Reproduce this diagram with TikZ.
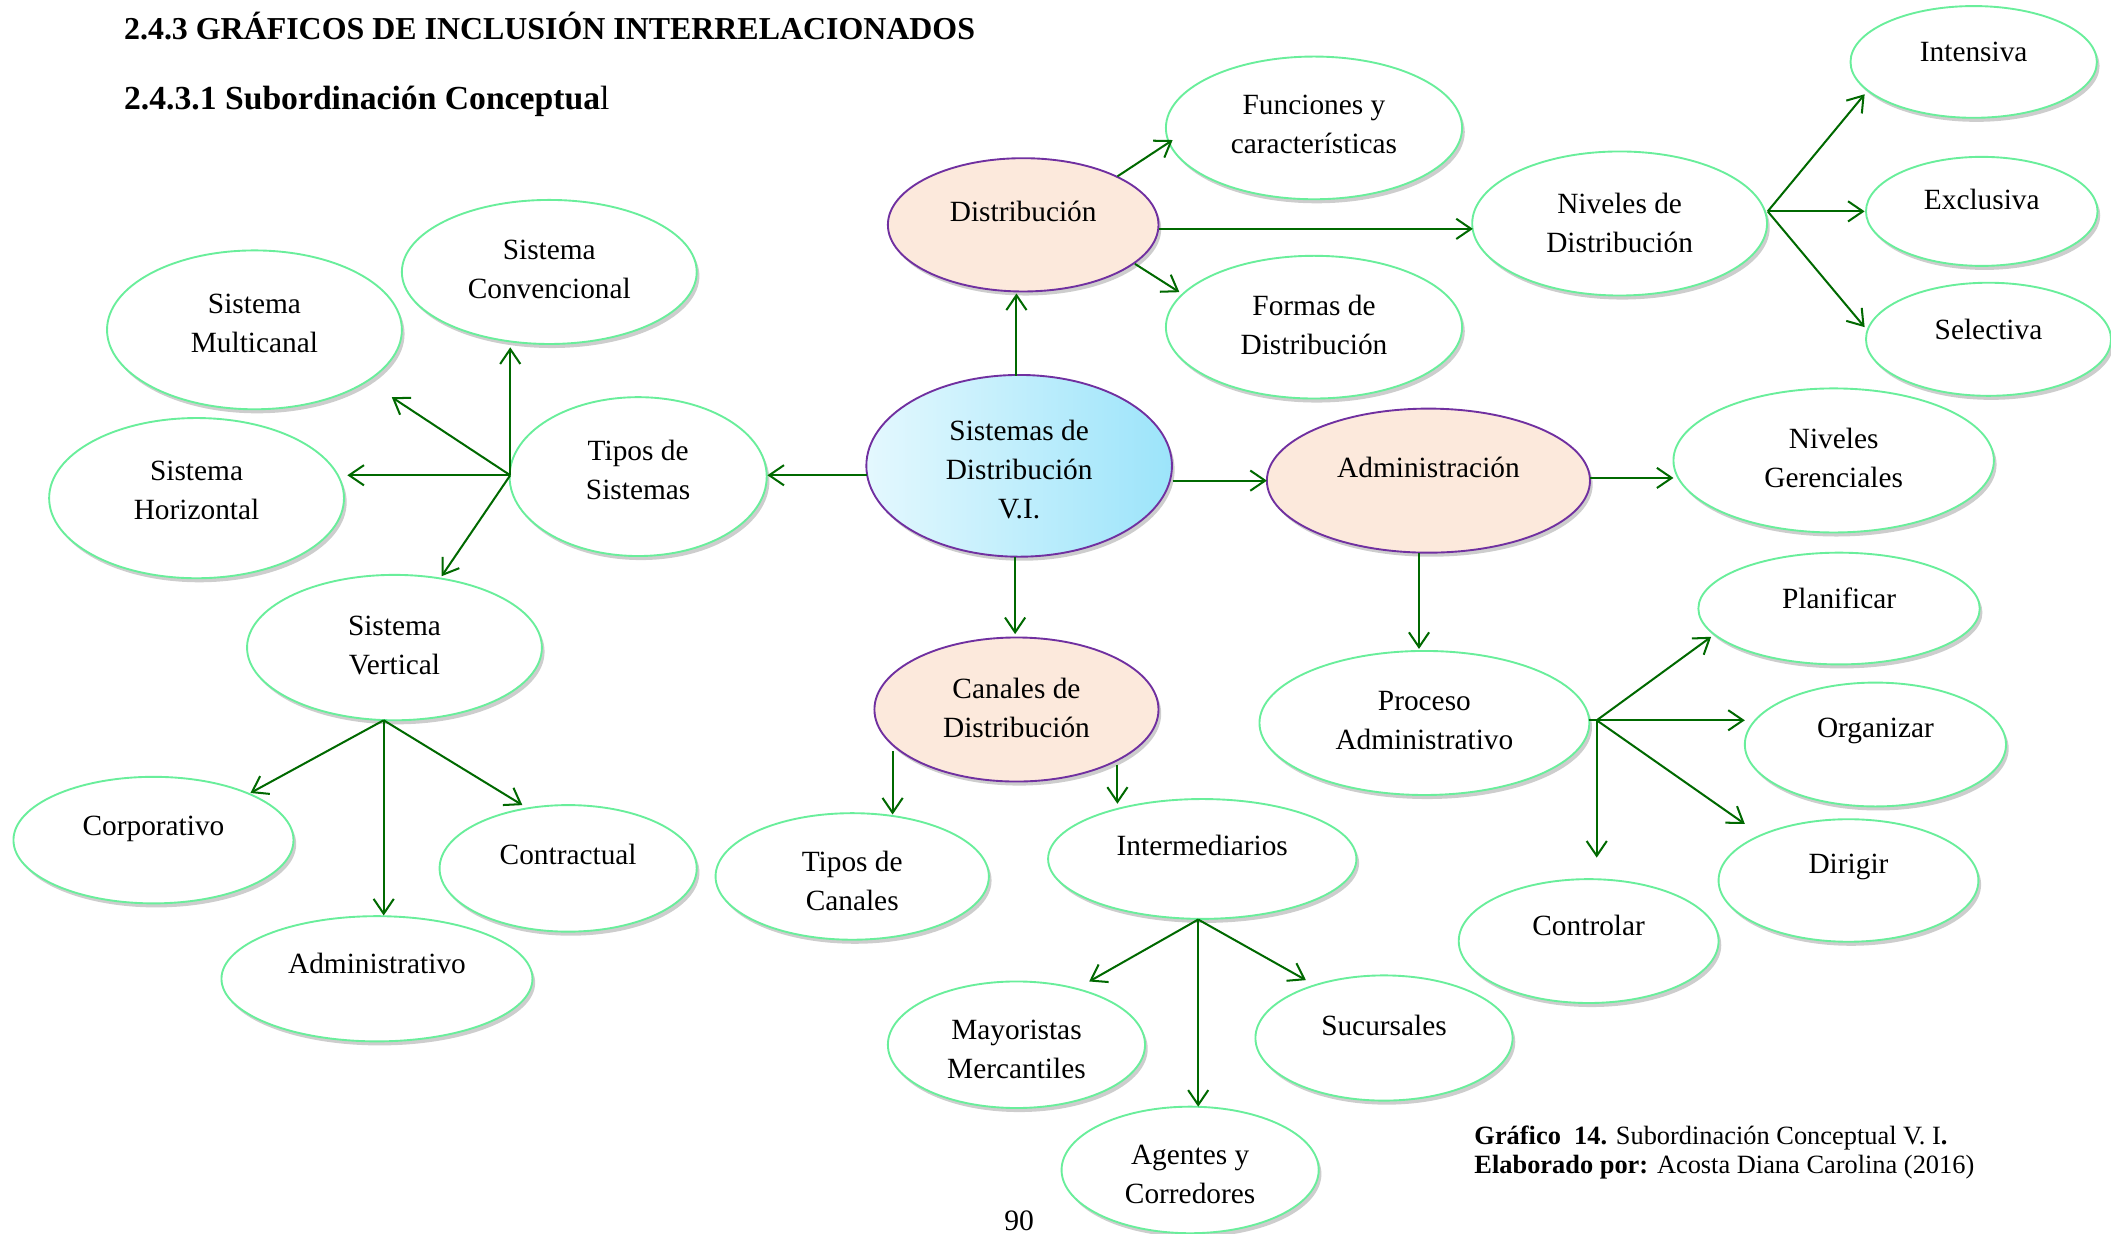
\documentclass[tikz,border=0pt]{standalone}
\usepackage{fontspec}
\setmainfont{Liberation Serif}
\usetikzlibrary{shapes.geometric,shadows,arrows.meta,calc}
\definecolor{agreen}{RGB}{0,105,0}
\definecolor{lgreen}{RGB}{105,238,155}
\definecolor{peach}{RGB}{252,233,220}
\definecolor{purp}{RGB}{112,48,160}
\definecolor{cyanL}{RGB}{228,248,254}
\definecolor{cyanR}{RGB}{156,228,250}
\tikzset{
  base/.style={ellipse, line width=1.4pt, inner sep=0pt,
    drop shadow={shadow xshift=2pt,shadow yshift=-3pt,opacity=.28,fill=black!70}},
  gov/.style={base, draw=lgreen, fill=white},
  pov/.style={base, draw=purp, fill=peach},
  cov/.style={base, draw=purp, left color=cyanL, right color=cyanR},
  txt/.style={align=center, inner sep=0pt,
    font=\fontsize{21.8}{29}\selectfont,
    execute at begin node=\strut, execute at end node=\strut},
  arr/.style={draw=agreen, line width=1.5pt, -{Straight Barb[length=11pt,width=15pt]}},
  lin/.style={draw=agreen, line width=1.5pt},
}
\newcommand\Ov[8]{%
  \node[#1,minimum width=#5pt,minimum height=#6pt] (#2) at (#3,#4) {};
  \node[txt] (#2t) at ($(#2)+(0,#7)$) {#8};
}
\begin{document}
\begin{tikzpicture}[x=1pt,y=-1pt]
\useasboundingbox (0,0) rectangle (1568,916);
% headings
\node[anchor=base west, inner sep=0pt, font=\fontsize{23.7}{27}\selectfont\bfseries] (h1) at (92,29) {2.4.3 GRÁFICOS DE INCLUSIÓN INTERRELACIONADOS};
\node[anchor=base west, inner sep=0pt, font=\fontsize{25}{29}\selectfont] (h2) at (92,81) {\textbf{2.4.3.1 Subordinación Conceptua}l};
% nodes
\Ov{gov}{fun}{976}{95}{220}{106}{1.5}{Funciones y\\características}
\Ov{gov}{intens}{1466}{46}{183}{83}{-6}{Intensiva}
\Ov{pov}{dist}{760}{167}{201}{99}{-8}{Distribución}
\Ov{gov}{niv}{1203}{166}{219}{107}{3.5}{Niveles de\\Distribución}
\Ov{gov}{excl}{1472}{157}{172}{81}{-7}{Exclusiva}
\Ov{gov}{sel}{1477}{252}{182}{84}{-6}{Selectiva}
\Ov{gov}{conv}{408}{202}{219}{107}{2.5}{Sistema\\Convencional}
\Ov{gov}{multi}{189}{245}{219}{118}{-0.5}{Sistema\\Multicanal}
\Ov{gov}{formas}{976}{243}{220}{106}{2.5}{Formas de\\Distribución}
\Ov{gov}{horiz}{146}{370}{219}{119}{-1.5}{Sistema\\Horizontal}
\Ov{gov}{tsis}{474}{354}{191}{118}{-1}{Tipos de\\Sistemas}
\Ov{cov}{center}{757}{346}{227}{135}{7}{Sistemas de\\Distribución\\V.I.}
\Ov{pov}{admin}{1061}{357}{240}{107}{-8}{Administración}
\Ov{gov}{ngr}{1362}{342}{238}{107}{2.5}{Niveles\\Gerenciales}
\Ov{gov}{plan}{1366}{452}{209}{83}{-6}{Planificar}
\Ov{gov}{vert}{293}{481}{219}{108}{2.5}{Sistema\\Vertical}
\Ov{pov}{can}{755}{527}{211}{107}{3}{Canales de\\Distribución}
\Ov{gov}{proc}{1058}{537}{245}{107}{2.5}{Proceso\\Administrativo}
\Ov{gov}{org}{1393}{553}{194}{92}{-11}{Organizar}
\Ov{gov}{corp}{114}{624}{208}{94}{-9}{Corporativo}
\Ov{gov}{contr}{422}{645}{191}{94}{-9}{Contractual}
\Ov{gov}{tcan}{633}{651}{203}{94}{7.5}{Tipos de\\Canales}
\Ov{gov}{interm}{893}{638}{229}{89}{-8}{Intermediarios}
\Ov{gov}{dir}{1373}{654}{193}{91}{-11}{Dirigir}
\Ov{gov}{ctrl}{1180}{699}{193}{92}{-10}{Controlar}
\Ov{gov}{adm}{280}{727}{231}{93}{-10}{Administrativo}
\Ov{gov}{may}{755}{776}{191}{94}{7.5}{Mayoristas\\Mercantiles}
\Ov{gov}{suc}{1028}{771}{191}{93}{-8}{Sucursales}
\Ov{gov}{ag}{884}{869}{191}{94}{7.5}{Agentes y\\Corredores}
% connectors
\draw[arr] ($(center)+(-2,-67)$) -- ($(dist)+(-5,51)$);
\draw[arr] ($(dist)+(70,-36)$) -- ($(fun)+(-105,9)$);
\draw[arr] ($(dist)+(101,3)$) -- ($(niv)+(-109,4)$);
\draw[arr] ($(dist)+(83,29)$) -- ($(formas)+(-100,-26)$);
\coordinate (nivb) at ($(niv)+(110,-9)$);
\draw[arr] (nivb) -- ($(intens)+(-81,24)$);
\draw[arr] (nivb) -- ($(excl)+(-87,0)$);
\draw[arr] (nivb) -- ($(sel)+(-92,-9)$);
\draw[arr] ($(center)+(-113,7)$) -- ($(tsis)+(96,-1)$);
\coordinate (tsb) at ($(tsis)+(-95,-1)$);
\draw[arr] (tsb) -- ($(conv)+(-29,56)$);
\draw[arr] (tsb) -- ($(multi)+(102,50)$);
\draw[arr] (tsb) -- ($(horiz)+(112,-17)$);
\draw[arr] (tsb) -- ($(vert)+(35,-53)$);
\draw[arr] ($(center)+(114,11)$) -- ($(admin)+(-120,0)$);
\draw[arr] ($(admin)+(120,-2)$) -- ($(ngr)+(-119,13)$);
\draw[arr] ($(admin)+(-7,54)$) -- ($(proc)+(-4,-55)$);
\coordinate (procb) at ($(proc)+(128,-2)$);
\draw[lin] ($(proc)+(122,-2)$) -- (procb);
\draw[arr] (procb) -- ($(plan)+(-95,21)$);
\draw[arr] (procb) -- ($(org)+(-97,-18)$);
\draw[arr] (procb) -- ($(dir)+(-77,-42)$);
\draw[arr] (procb) -- ($(ctrl)+(6,-62)$);
\draw[arr] ($(center)+(-3,68)$) -- ($(can)+(-1,-56)$);
\draw[arr] ($(can)+(-92,31)$) -- ($(tcan)+(30,-46)$);
\draw[arr] ($(can)+(75,41)$) -- ($(interm)+(-63,-41)$);
\coordinate (vertb) at ($(vert)+(-8,54)$);
\draw[arr] (vertb) -- ($(corp)+(72,-35)$);
\draw[arr] (vertb) -- ($(adm)+(5,-47)$);
\draw[arr] (vertb) -- ($(contr)+(-34,-47)$);
\coordinate (intb) at ($(interm)+(-3,45)$);
\draw[arr] (intb) -- ($(may)+(54,-47)$);
\draw[arr] (intb) -- ($(ag)+(6,-47)$);
\draw[arr] (intb) -- ($(suc)+(-58,-43)$);
% caption
\node[anchor=base west, inner sep=0pt, font=\fontsize{19.6}{22}\selectfont] (cap1) at (1095,850) {\textbf{Gráfico\ \ 14.} Subordinación Conceptual V. I\textbf{.}};
\node[anchor=base west, inner sep=0pt, font=\fontsize{19.6}{22}\selectfont] (cap2) at (1095,872) {\textbf{Elaborado por:} Acosta Diana Carolina (2016)};
\node[anchor=base, inner sep=0pt, font=\fontsize{22}{26}\selectfont] (pg) at (757,914) {90};
\end{tikzpicture}
\end{document}
